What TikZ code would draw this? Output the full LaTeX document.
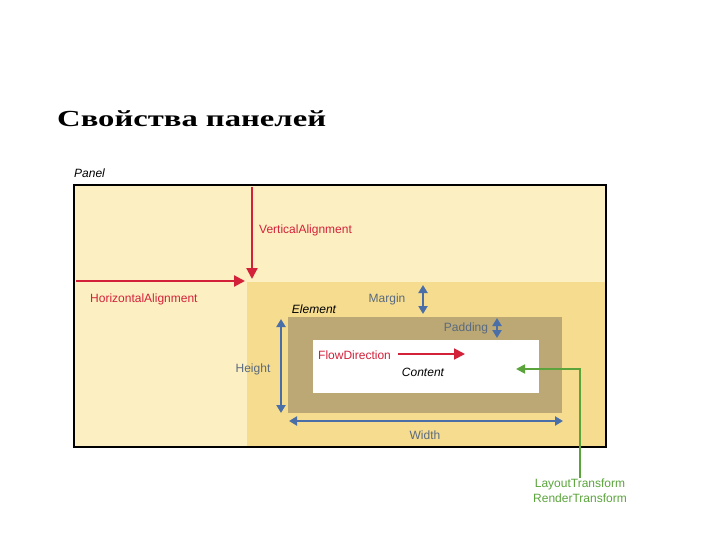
\documentclass[tikz,border=0pt]{standalone}
\usepackage{fontspec}
\usepackage{graphicx}
\setmainfont{Liberation Sans}
\newfontfamily\titlefont{Liberation Serif}
\usetikzlibrary{arrows.meta}
\definecolor{pbg}{HTML}{FCF0C2}
\definecolor{ebg}{HTML}{F5DC8E}
\definecolor{elbr}{HTML}{BBA874}
\definecolor{rd}{HTML}{D3213A}
\definecolor{bl}{HTML}{4A6FA8}
\definecolor{gr}{HTML}{5BA43C}
\definecolor{gt}{HTML}{5A6A80}
\tikzset{
 lbl/.style={font=\fontsize{12}{14}\selectfont, inner sep=0pt},
 ilbl/.style={font=\itshape\fontsize{12}{14}\selectfont, inner sep=0pt},
 redarr/.style={rd, line width=2.2pt, -{Triangle[length=11pt,width=11pt]}},
 bluearr/.style={bl, line width=2.2pt, {Triangle[length=8pt,width=9pt]}-{Triangle[length=8pt,width=9pt]}},
}
\begin{document}
\begin{tikzpicture}[x=1pt,y=-1pt]
\useasboundingbox (0,0) rectangle (720,540);
\node[anchor=west, inner sep=0pt, font=\titlefont\bfseries\fontsize{23}{28}\selectfont] (title) at (57,119) {\scalebox{1.42}[1]{Свойства панелей}};
\node[ilbl, anchor=west] (plabel) at (74,173) {Panel};
\path[fill=pbg] (74,185) rectangle (606,447);
\path[fill=ebg] (247,282) rectangle (605,446);
\draw[line width=2pt] (74,185) rectangle (606,447);
\node[fill=elbr, minimum width=274pt, minimum height=96pt, inner sep=0pt] (el) at (425,365) {};
\node[fill=white, minimum width=226pt, minimum height=53pt, inner sep=0pt] (ct) at (426,366.5) {};
\node[ilbl] (eltxt) at (314,309) {Element};
\node[ilbl] (cttxt) at (423,372) {Content};
\coordinate (va1) at (252,187);
\coordinate (va2) at (252,279);
\draw[redarr] (va1) -- (va2);
\node[lbl, anchor=west, text=rd] (vat) at (259,230) {VerticalAlignment};
\coordinate (ha1) at (76,281);
\coordinate (ha2) at (245,281);
\draw[redarr] (ha1) -- (ha2);
\node[lbl, anchor=west, text=rd] (hat) at (90,299) {HorizontalAlignment};
\node[lbl, anchor=west, text=rd] (fd) at (318,355) {FlowDirection};
\coordinate (fd1) at (398,354);
\coordinate (fd2) at (465,354);
\draw[redarr, line width=1.8pt] (fd1) -- (fd2);
\node[lbl, text=gt] (mg) at (387,299) {Margin};
\coordinate (m1) at (423,285); \coordinate (m2) at (423,314);
\draw[bluearr] (m1) -- (m2);
\node[lbl, text=gt] (pd) at (466,328) {Padding};
\coordinate (p1) at (497,318); \coordinate (p2) at (497,338);
\draw[bluearr] (p1) -- (p2);
\node[lbl, text=gt] (ht) at (253,369) {Height};
\coordinate (h1) at (281,319); \coordinate (h2) at (281,413);
\draw[bluearr] (h1) -- (h2);
\coordinate (w1) at (289,421); \coordinate (w2) at (563,421);
\draw[bluearr] (w1) -- (w2);
\node[lbl, text=gt] (wt) at (425,435) {Width};
\node[lbl, text=gr, align=center] (lt) at (580,491) {LayoutTransform\\[1pt]RenderTransform};
\coordinate (g0) at (580,478);
\coordinate (g1) at (580,369);
\coordinate (g2) at (516,369);
\draw[gr, line width=1.8pt, -{Triangle[length=9pt,width=9pt]}] (g0) -- (g1) -- (g2);
\end{tikzpicture}
\end{document}
